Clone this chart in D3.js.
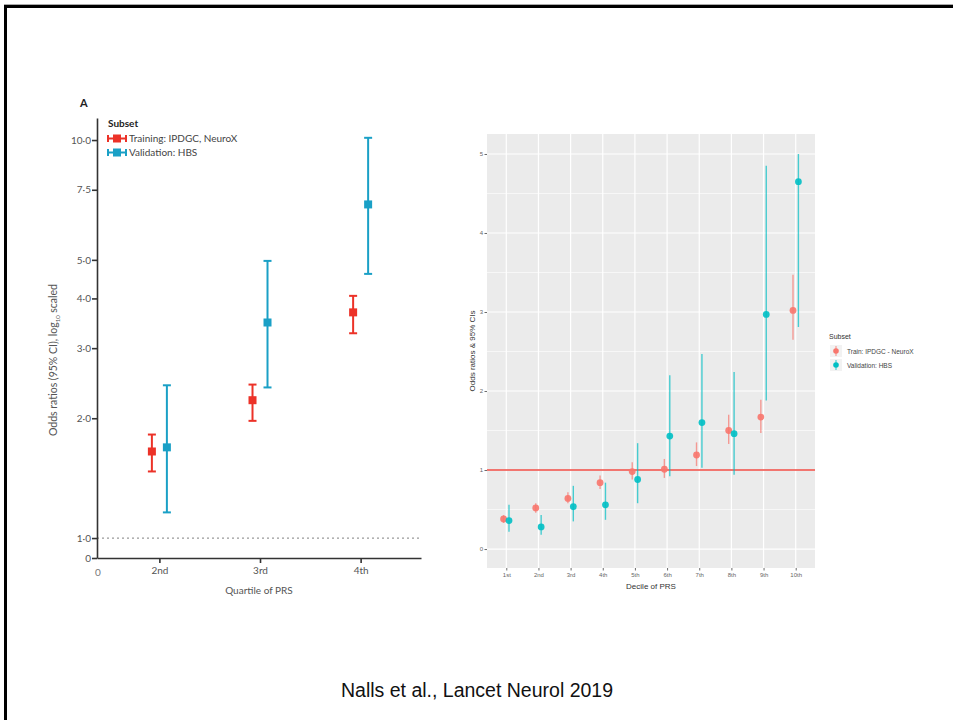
<!DOCTYPE html>
<html>
<head>
<meta charset="utf-8">
<script src="https://cdn.jsdelivr.net/npm/d3@7"></script>
<style>
  body { margin: 0; background: #fff; }
  svg { display: block; }
</style>
</head>
<body>
<script>
// ---- panel A: quartiles (log10 scaled odds ratios) ----
var quartiles = ["2nd", "3rd", "4th"];
var trainOR = [1.65, 2.22, 3.69];
var trainLo = [1.47, 1.97, 3.27];
var trainHi = [1.82, 2.43, 4.06];
var validOR = [1.69, 3.48, 6.89];
var validLo = [1.16, 2.39, 4.61];
var validHi = [2.42, 4.97, 10.13];
var leftTicks = [1, 2, 3, 4, 5, 7.5, 10];

// ---- panel B: deciles (ggplot) ----
var deciles = ["1st", "2nd", "3rd", "4th", "5th", "6th", "7th", "8th", "9th", "10th"];
var decTrainOR = [0.38, 0.52, 0.64, 0.84, 0.98, 1.01, 1.19, 1.50, 1.67, 3.02];
var decTrainLo = [0.33, 0.46, 0.58, 0.76, 0.88, 0.90, 1.05, 1.33, 1.47, 2.65];
var decTrainHi = [0.43, 0.58, 0.72, 0.93, 1.10, 1.14, 1.35, 1.70, 1.89, 3.47];
var decValidOR = [0.36, 0.28, 0.535, 0.56, 0.88, 1.43, 1.60, 1.46, 2.97, 4.65];
var decValidLo = [0.22, 0.18, 0.35, 0.37, 0.58, 0.92, 1.03, 0.94, 1.88, 2.81];
var decValidHi = [0.56, 0.43, 0.80, 0.84, 1.34, 2.20, 2.47, 2.24, 4.85, 5.00];
var rightTicks = [0, 1, 2, 3, 4, 5];

var width = 953, height = 720;
var red = "#ec3228", blue = "#1aa0c6";
var gRed = "#F8766D", gBlue = "#00BFC4";

var svg = d3.select("body").append("svg")
    .attr("width", width)
    .attr("height", height);

// slide frame
svg.append("line").attr("x1", 4).attr("x2", width).attr("y1", 4.5).attr("y2", 4.5)
    .attr("stroke", "#aaa").attr("stroke-width", 1);
svg.append("line").attr("x1", 4).attr("x2", width).attr("y1", 6.5).attr("y2", 6.5)
    .attr("stroke", "#000").attr("stroke-width", 3);
svg.append("line").attr("x1", 5.5).attr("x2", 5.5).attr("y1", 5).attr("y2", height)
    .attr("stroke", "#000").attr("stroke-width", 3);

// =============== panel A ===============
var lFont = "Lato, 'Open Sans', sans-serif";
var xL = d3.scaleLinear().domain([0.38, 3.6]).range([97, 421]);
var yL = d3.scaleLog().domain([0.891, 11.36]).range([558, 118]);
var fmtL = function(d) { return d3.format(".1f")(d).replace(".", "\u00b7"); };

var gA = svg.append("g");

// dotted reference line at OR = 1
gA.append("line")
    .attr("x1", xL(0.38)).attr("x2", xL(3.6))
    .attr("y1", yL(1)).attr("y2", yL(1))
    .attr("stroke", "#999").attr("stroke-width", 1.2)
    .attr("stroke-dasharray", "2,3");

var yAxisL = gA.append("g")
    .attr("transform", "translate(" + xL(0.38) + ",0)")
    .call(d3.axisLeft(yL).tickValues(leftTicks.concat([0.891])).tickSize(5).tickSizeOuter(0)
      .tickFormat(function(d) { return d < 1 ? "0" : fmtL(d); }));
var xAxisL = gA.append("g")
    .attr("transform", "translate(0," + yL(0.891) + ")")
    .call(d3.axisBottom(xL).tickValues([1, 2, 3]).tickSize(5).tickSizeOuter(0)
      .tickFormat(function(d) { return quartiles[d - 1]; }));

[yAxisL, xAxisL].forEach(function(ax) {
  ax.select(".domain").attr("stroke", "#333").attr("stroke-width", 1.6);
  ax.selectAll(".tick line").attr("stroke", "#333").attr("stroke-width", 1.6);
  ax.selectAll(".tick text").attr("fill", "#555").style("font-family", lFont).style("font-size", "10px");
});
yAxisL.selectAll(".tick text").attr("x", -6);
xAxisL.selectAll(".tick text").attr("y", 9);

gA.append("text")
    .attr("x", xL(0.38) + 1).attr("y", yL(0.891) + 18)
    .attr("text-anchor", "middle")
    .style("font-family", lFont).style("font-size", "10px").attr("fill", "#777")
    .text("0");

gA.append("text")
    .attr("x", (xL(0.38) + xL(3.6)) / 2).attr("y", 594)
    .attr("text-anchor", "middle")
    .style("font-family", lFont).style("font-size", "10px").attr("fill", "#555")
    .text("Quartile of PRS");

var yTitle = gA.append("text")
    .attr("transform", "translate(57,360) rotate(-90)")
    .attr("text-anchor", "middle")
    .style("font-family", lFont).style("font-size", "10.5px").attr("fill", "#555");
yTitle.append("tspan").text("Odds ratios (95% CI), log");
yTitle.append("tspan").attr("dy", 3).style("font-size", "6px").text("10");
yTitle.append("tspan").attr("dy", -3).text(" scaled");

gA.append("text")
    .attr("x", 80).attr("y", 107)
    .style("font-family", lFont).style("font-size", "11px").style("font-weight", "bold").attr("fill", "#222")
    .text("A");

var seriesL = [
  { name: "Training: IPDGC, NeuroX", color: red, dx: -7.5, or: trainOR, lo: trainLo, hi: trainHi },
  { name: "Validation: HBS", color: blue, dx: 7.5, or: validOR, lo: validLo, hi: validHi }
];

seriesL.forEach(function(s) {
  var g = gA.append("g");
  quartiles.forEach(function(q, i) {
    var cx = xL(i + 1) + s.dx;
    g.append("line").attr("x1", cx).attr("x2", cx)
        .attr("y1", yL(s.lo[i])).attr("y2", yL(s.hi[i]))
        .attr("stroke", s.color).attr("stroke-width", 2);
    [s.lo[i], s.hi[i]].forEach(function(v) {
      g.append("line").attr("x1", cx - 4).attr("x2", cx + 4)
          .attr("y1", yL(v)).attr("y2", yL(v))
          .attr("stroke", s.color).attr("stroke-width", 2);
    });
    g.append("rect").attr("x", cx - 4).attr("y", yL(s.or[i]) - 4)
        .attr("width", 8).attr("height", 8).attr("fill", s.color);
  });
});

// legend A
var legA = gA.append("g").attr("transform", "translate(108,0)");
legA.append("text").attr("x", 0).attr("y", 127)
    .style("font-family", lFont).style("font-size", "10px").style("font-weight", "bold").attr("fill", "#222")
    .text("Subset");
seriesL.forEach(function(s, i) {
  var y = 142 + i * 14;
  legA.append("line").attr("x1", 0).attr("x2", 18).attr("y1", y - 3.5).attr("y2", y - 3.5)
      .attr("stroke", s.color).attr("stroke-width", 2);
  [0, 18].forEach(function(x) {
    legA.append("line").attr("x1", x).attr("x2", x).attr("y1", y - 7).attr("y2", y)
        .attr("stroke", s.color).attr("stroke-width", 2);
  });
  legA.append("rect").attr("x", 5).attr("y", y - 7.5).attr("width", 8).attr("height", 8).attr("fill", s.color);
  legA.append("text").attr("x", 21).attr("y", y)
      .style("font-family", lFont).style("font-size", "10px").attr("fill", "#444")
      .text(s.name);
});

// =============== panel B ===============
var rFont = "'Liberation Sans', Arial, sans-serif";
var xR = d3.scalePoint().domain(deciles).range([487, 815]).padding(0.6);
var yR = d3.scaleLinear().domain([-0.24, 5.253]).range([568, 134]);

var gB = svg.append("g");
gB.append("rect").attr("x", 487).attr("y", 134).attr("width", 815 - 487).attr("height", 568 - 134)
    .attr("fill", "#ebebeb");

// minor grid
d3.range(0, 5, 1).forEach(function(v) {
  gB.append("line").attr("x1", 487).attr("x2", 815).attr("y1", yR(v + 0.5)).attr("y2", yR(v + 0.5))
      .attr("stroke", "#fff").attr("stroke-width", 0.6);
});
// major grid
rightTicks.forEach(function(v) {
  gB.append("line").attr("x1", 487).attr("x2", 815).attr("y1", yR(v)).attr("y2", yR(v))
      .attr("stroke", "#fff").attr("stroke-width", 1.2);
});
deciles.forEach(function(d) {
  gB.append("line").attr("x1", xR(d)).attr("x2", xR(d)).attr("y1", 134).attr("y2", 568)
      .attr("stroke", "#fff").attr("stroke-width", 1.2);
});

// reference line at OR = 1
gB.append("line").attr("x1", 487).attr("x2", 815).attr("y1", yR(1)).attr("y2", yR(1))
    .attr("stroke", "#ef4a42").attr("stroke-width", 1.6);

var seriesR = [
  { name: "Train: IPDGC - NeuroX", color: gRed, dx: -2.7, or: decTrainOR, lo: decTrainLo, hi: decTrainHi },
  { name: "Validation: HBS", color: gBlue, dx: 2.7, or: decValidOR, lo: decValidLo, hi: decValidHi }
];

seriesR.forEach(function(s) {
  var g = gB.append("g");
  deciles.forEach(function(d, i) {
    var cx = xR(d) + s.dx;
    g.append("line").attr("x1", cx).attr("x2", cx)
        .attr("y1", yR(s.lo[i])).attr("y2", yR(s.hi[i]))
        .attr("stroke", s.color).attr("stroke-width", 1.4).attr("stroke-opacity", 0.7);
    g.append("circle").attr("cx", cx).attr("cy", yR(s.or[i])).attr("r", 3.4)
        .attr("fill", s.color).attr("fill-opacity", 0.9);
  });
});

var yAxisR = gB.append("g").attr("transform", "translate(487,0)")
    .call(d3.axisLeft(yR).tickValues(rightTicks).tickSize(2.5).tickFormat(d3.format("d")));
var xAxisR = gB.append("g").attr("transform", "translate(0,568)")
    .call(d3.axisBottom(xR).tickSize(2.5));
[yAxisR, xAxisR].forEach(function(ax) {
  ax.select(".domain").remove();
  ax.selectAll(".tick line").attr("stroke", "#444").attr("stroke-width", 0.8);
  ax.selectAll(".tick text").attr("fill", "#666").style("font-family", rFont).style("font-size", "6px");
});
yAxisR.selectAll(".tick text").attr("x", -4);
xAxisR.selectAll(".tick text").attr("y", 5);

gB.append("text")
    .attr("x", 651).attr("y", 589)
    .attr("text-anchor", "middle")
    .style("font-family", rFont).style("font-size", "8px").attr("fill", "#333")
    .text("Decile of PRS");
gB.append("text")
    .attr("transform", "translate(475,351) rotate(-90)")
    .attr("text-anchor", "middle")
    .style("font-family", rFont).style("font-size", "8px").attr("fill", "#333")
    .text("Odds ratios & 95% CIs");

// legend B
var legB = gB.append("g").attr("transform", "translate(829,0)");
legB.append("text").attr("x", 0).attr("y", 339)
    .style("font-family", rFont).style("font-size", "7px").attr("fill", "#333")
    .text("Subset");
seriesR.forEach(function(s, i) {
  var y = 351 + i * 14;
  legB.append("rect").attr("x", 1).attr("y", y - 6).attr("width", 12).attr("height", 12).attr("fill", "#f2f2f2");
  legB.append("line").attr("x1", 7).attr("x2", 7).attr("y1", y - 5).attr("y2", y + 5)
      .attr("stroke", s.color).attr("stroke-width", 1.2).attr("stroke-opacity", 0.7);
  legB.append("circle").attr("cx", 7).attr("cy", y).attr("r", 2.8).attr("fill", s.color);
  legB.append("text").attr("x", 18).attr("y", y + 2.5)
      .style("font-family", rFont).style("font-size", "6.5px").attr("fill", "#444")
      .text(s.name);
});

// caption
svg.append("text")
    .attr("x", 477).attr("y", 697)
    .attr("text-anchor", "middle")
    .style("font-family", rFont).style("font-size", "19.5px").attr("fill", "#111")
    .text("Nalls et al., Lancet Neurol 2019");
</script>
</body>
</html>
